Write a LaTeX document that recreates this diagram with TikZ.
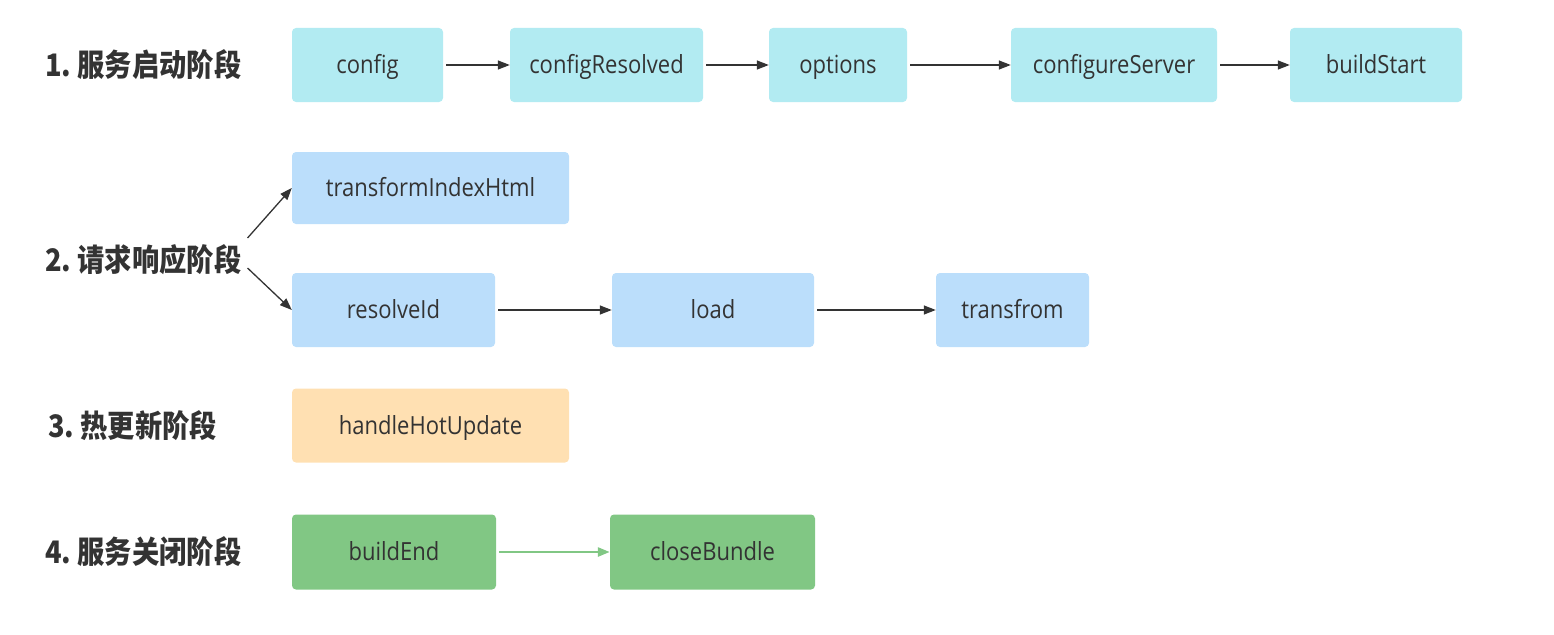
\documentclass[tikz,border=0pt]{standalone}
\usepackage{fontspec}
\setmainfont{Open Sans}[FakeStretch=0.88]
\newfontfamily\cjk{Noto Sans CJK SC}[FakeStretch=0.88]
\usetikzlibrary{arrows.meta}
\definecolor{hookcyan}{HTML}{B2EBF2}
\definecolor{hookblue}{HTML}{BBDEFB}
\definecolor{hookorange}{HTML}{FFE0B2}
\definecolor{hookgreen}{HTML}{81C784}
\definecolor{inkgray}{HTML}{333333}
\tikzstyle{hook}=[rounded corners=4pt,minimum height=74pt,
    inner sep=0pt,text=inkgray,font=\fontsize{25}{28}\selectfont,
    text height=20pt,text depth=3pt]
\tikzstyle{phase}=[anchor=west,inner sep=0pt,text=inkgray,
    font=\cjk\bfseries\fontsize{31}{34}\selectfont]
\tikzstyle{transition}=[line width=1.3pt,color=inkgray]
\newcommand{\hookbox}[5][]{
    \node[hook,#1,minimum width=#4] at (#2) (#3) {#5};
}
\newcommand{\flow}[3][]{
    \draw[transition,->,>={Triangle[length=12pt,width=9pt]},#1]
    (#2.east) ++(3pt,0) -- (#3.west);}

\begin{document}
\begin{tikzpicture}[x=1pt,y=-1pt]
    \useasboundingbox (0,0) rectangle (1554,634);
    %
    \node[phase] at (45,65) (p1) {1.\ 服务启动阶段};
    \node[phase] at (45,260) (p2) {2.\ 请求响应阶段};
    \node[phase] at (48,426) (p3) {3.\ 热更新阶段};
    \node[phase] at (45,552) (p4) {4.\ 服务关闭阶段};
    %
    \hookbox[fill=hookcyan]{367.5,65}{config}{151pt}{config}
    \hookbox[fill=hookcyan]{606.5,65}{configResolved}{193pt}{configResolved}
    \hookbox[fill=hookcyan]{838,65}{options}{138pt}{options}
    \hookbox[fill=hookcyan]{1114,65}{configureServer}{206pt}{configureServer}
    \hookbox[fill=hookcyan]{1376,65}{buildStart}{172pt}{buildStart}
    \flow{config}{configResolved}
    \flow{configResolved}{options}
    \flow{options}{configureServer}
    \flow{configureServer}{buildStart}
    %
    \hookbox[fill=hookblue,minimum height=72pt]{430.5,188}{transformIndexHtml}{277pt}{transformIndexHtml}
    \hookbox[fill=hookblue]{393.5,310}{resolveId}{203pt}{resolveId}
    \hookbox[fill=hookblue]{713,310}{load}{202pt}{load}
    \hookbox[fill=hookblue]{1012.5,310}{transfrom}{153pt}{transfrom}
    \draw[transition,->,>={Triangle[length=12pt,width=9pt]}]
        (p2.east) ++(6,-22) -- (transformIndexHtml.west);
    \draw[transition,->,>={Triangle[length=12pt,width=9pt]}]
        (p2.east) ++(6,8) -- (resolveId.west);
    \flow{resolveId}{load}
    \flow{load}{transfrom}
    %
    \hookbox[fill=hookorange]{430.5,425.5}{handleHotUpdate}{277pt}{handleHotUpdate}
    %
    \hookbox[fill=hookgreen,minimum height=75pt]{394,552}{buildEnd}{204pt}{buildEnd}
    \hookbox[fill=hookgreen,minimum height=75pt]{712.5,552}{closeBundle}{205pt}{closeBundle}
    \flow[color=hookgreen,line width=2.5pt]{buildEnd}{closeBundle}
\end{tikzpicture}
\end{document}
